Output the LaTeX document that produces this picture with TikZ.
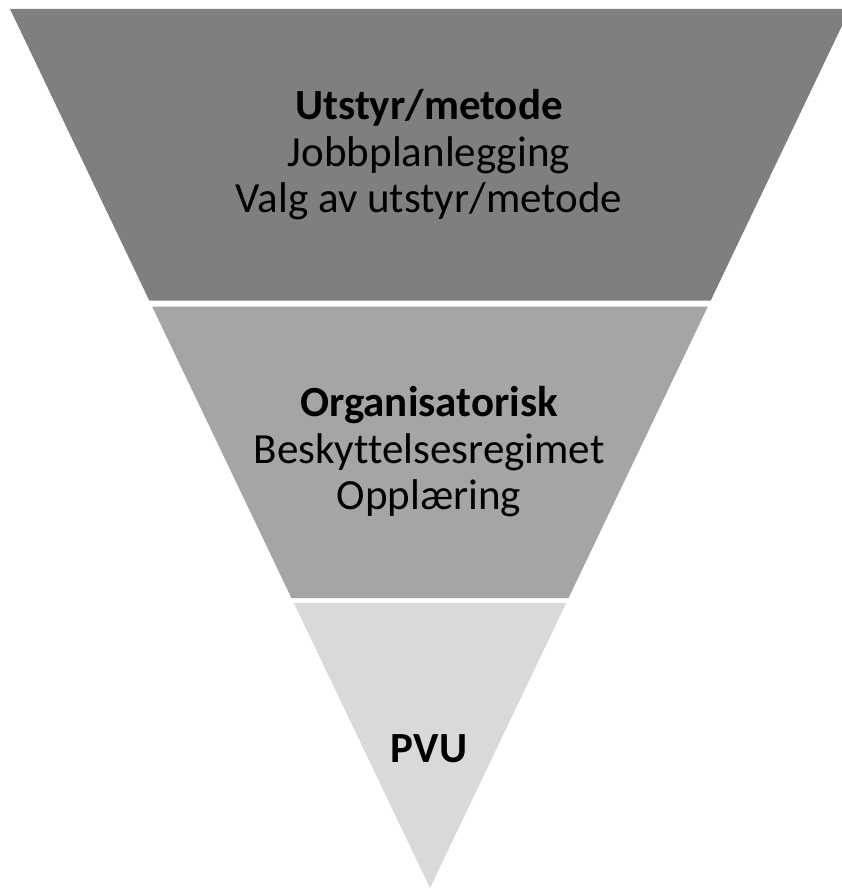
\documentclass[tikz,border=0pt]{standalone}
\usepackage{fontspec}
\setmainfont{Carlito}[Ligatures=NoCommon]
\usetikzlibrary{calc}
\definecolor{bandtop}{HTML}{7F7F7F}
\definecolor{bandmid}{HTML}{A5A5A5}
\definecolor{bandlow}{HTML}{D9D9D9}
\tikzset{bandtext/.style={align=center,inner sep=0pt,text=black,
  font=\fontsize{43}{46.5}\selectfont}}

\begin{document}
\begin{tikzpicture}[x=1pt,y=-1pt]
\useasboundingbox (0,0) rectangle (842,888);
\clip (0,0) rectangle (842,888);
\coordinate (L) at (10,9);
\coordinate (R) at (850,9);
\coordinate (A) at (430,888);
% band edges, as fractions of the height
\coordinate (L1) at ($(L)!.3319!(A)$);
\coordinate (R1) at ($(R)!.3319!(A)$);
\coordinate (L2) at ($(L)!.3387!(A)$);
\coordinate (R2) at ($(R)!.3387!(A)$);
\coordinate (L3) at ($(L)!.6701!(A)$);
\coordinate (R3) at ($(R)!.6701!(A)$);
\coordinate (L4) at ($(L)!.6758!(A)$);
\coordinate (R4) at ($(R)!.6758!(A)$);
\fill[bandtop] (L) -- (R) -- (R1) -- (L1) -- cycle;
\fill[bandmid] (L2) -- (R2) -- (R3) -- (L3) -- cycle;
\fill[bandlow] (L4) -- (R4) -- (A) -- cycle;
\node[bandtext] (utstyr) at (429,155)
  {\textbf{Utstyr/metode}\\Jobbplanlegging\\Valg av utstyr/metode};
\node[bandtext] (org) at (429,452)
  {\textbf{Organisatorisk}\\Beskyttelsesregimet\\Opplæring};
\node[bandtext] (pvu) at (429,749) {\textbf{PVU}};
\end{tikzpicture}
\end{document}
